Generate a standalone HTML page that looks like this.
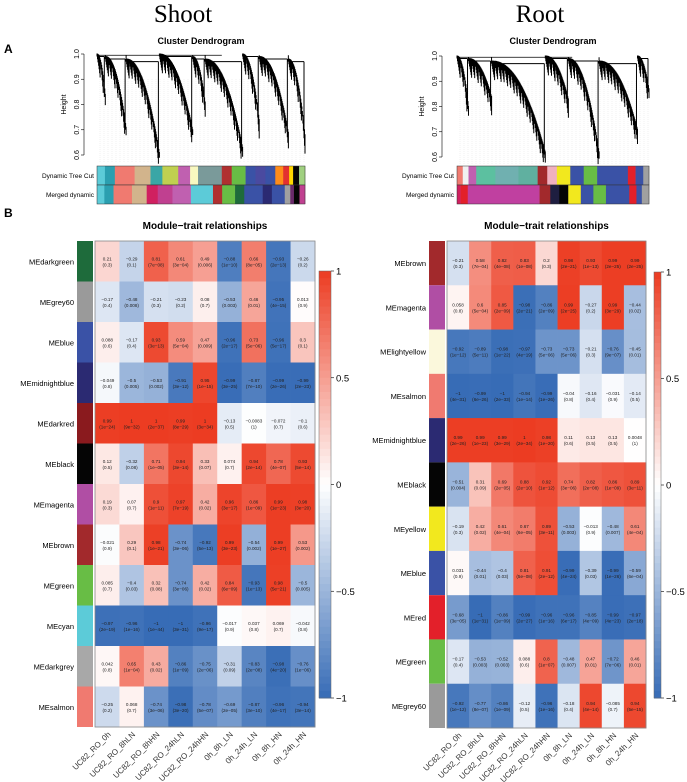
<!DOCTYPE html>
<html><head><meta charset="utf-8"><style>
html,body{margin:0;padding:0;background:#fff}
svg{display:block;font-family:"Liberation Sans",sans-serif}
</style></head><body>
<svg id="fig" width="687" height="782" viewBox="0 0 687 782">
<text x="4" y="53" font-size="12" font-weight="bold">A</text>
<text x="4" y="217" font-size="12" font-weight="bold">B</text>
<text x="183" y="22" font-size="25" text-anchor="middle" font-family="Liberation Serif,serif">Shoot</text>
<text x="540" y="22" font-size="25" text-anchor="middle" font-family="Liberation Serif,serif">Root</text>
<g id="dendroL"></g>
<g id="dendroR"></g>
<g id="heatL"></g>
<g id="heatR"></g>
</svg>
<script>
const traits=["UC82_RO_0h","UC82_RO_8hLN","UC82_RO_8hHN","UC82_RO_24hLN","UC82_RO_24hHN","0h_8h_LN","0h_24h_LN","0h_8h_HN","0h_24h_HN"];
const modulesL=["MEdarkgreen","MEgrey60","MEblue","MEmidnightblue","MEdarkred","MEblack","MEmagenta","MEbrown","MEgreen","MEcyan","MEdarkgrey","MEsalmon"];
const moduleColorsL=["#1e6b3b","#9a9a9a","#3a52a6","#2b2a72","#8a1a1e","#050505","#b04ea4","#a2292c","#68bd45","#5ccbd8","#a8a8a8","#f07a70"];
const corL=[
[0.21,-0.29,0.81,0.61,0.49,-0.88,0.66,-0.93,-0.26],
[-0.17,-0.48,-0.21,-0.23,0.08,-0.53,0.46,-0.95,0.013],
[0.088,-0.17,0.93,0.59,0.47,-0.96,0.73,-0.96,0.3],
[-0.049,-0.5,-0.53,-0.91,0.95,-0.99,-0.87,-0.99,-0.99],
[0.99,1,1,0.99,1,-0.13,-0.0083,-0.072,-0.1],
[0.12,-0.32,0.71,0.94,0.33,0.074,0.94,0.78,0.93],
[0.19,0.07,0.9,0.97,0.42,0.96,0.86,0.99,0.98],
[-0.021,0.29,0.98,-0.74,-0.92,0.99,-0.54,0.99,0.53],
[0.085,-0.4,0.32,-0.74,0.42,0.84,-0.93,0.98,-0.5],
[-0.97,-0.96,-1,-1,-0.96,-0.017,0.037,0.069,-0.042],
[0.042,0.65,0.43,-0.86,-0.75,-0.31,-0.83,-0.98,-0.76],
[-0.25,0.068,-0.74,-0.98,-0.78,-0.69,-0.87,-0.96,-0.94]];
const pL=[
["0.3","0.1","7e-08","3e-04","0.006","1e-10","8e-05","2e-13","0.2"],
["0.4","0.008","0.3","0.2","0.7","0.003","0.01","4e-15","0.9"],
["0.6","0.4","3e-13","5e-04","0.009","2e-17","5e-06","5e-17","0.1"],
["0.8","0.005","0.002","3e-12","1e-15","3e-25","7e-10","2e-26","2e-23"],
["1e-24","9e-32","2e-37","8e-29","3e-34","0.5","1","0.7","0.6"],
["0.5","0.08","1e-05","3e-14","0.07","0.7","2e-14","4e-07","5e-14"],
["0.3","0.7","1e-11","7e-19","0.02","3e-17","1e-09","1e-23","3e-20"],
["0.9","0.1","1e-21","3e-06","5e-13","3e-23","0.002","1e-27","0.002"],
["0.7","0.03","0.08","3e-06","0.02","6e-09","1e-13","5e-21","0.005"],
["2e-19","1e-16","1e-44","3e-31","9e-17","0.9","0.8","0.7","0.8"],
["0.8","1e-04","0.02","1e-09","2e-06","0.09","2e-08","4e-20","1e-06"],
["0.2","0.7","3e-06","3e-20","5e-07","2e-05","3e-10","4e-17","3e-14"]];
const modulesR=["MEbrown","MEmagenta","MElightyellow","MEsalmon","MEmidnightblue","MEblack","MEyellow","MEblue","MEred","MEgreen","MEgrey60"];
const moduleColorsR=["#a2292c","#b04ea4","#fbf8dc","#f07a70","#2b2a72","#050505","#f2e81e","#3a52a6","#e3202a","#68bd45","#9a9a9a"];
const corR=[
[-0.21,0.58,0.82,0.83,0.2,0.98,0.93,0.99,0.99],
[0.058,0.6,0.85,-0.98,-0.86,0.99,-0.27,0.99,-0.44],
[-0.92,-0.89,-0.98,-0.97,-0.73,-0.73,-0.21,-0.76,-0.45],
[-1,-0.99,-1,-0.94,-0.99,-0.04,-0.16,-0.031,-0.14],
[0.99,0.99,0.99,1,0.98,0.11,0.13,0.13,0.0048],
[-0.51,0.31,0.69,0.88,0.92,0.74,0.82,0.86,0.89],
[-0.19,0.42,0.61,0.67,0.89,-0.53,-0.013,-0.48,0.61],
[0.031,-0.44,-0.4,0.81,0.91,-0.99,-0.39,-0.99,-0.59],
[-0.68,-1,-0.86,-0.99,-0.96,-0.96,-0.85,-0.99,-0.97],
[-0.17,-0.53,-0.52,0.088,0.8,-0.48,0.47,-0.72,0.46],
[-0.92,-0.77,-0.86,-0.12,-0.96,-0.18,0.94,-0.085,0.94]];
const pR=[
["0.3","7e-04","4e-08","1e-08","0.3","2e-21","1e-13","2e-25","2e-25"],
["0.8","5e-04","2e-09","2e-21","2e-09","2e-25","0.2","3e-29","0.02"],
["1e-12","5e-11","1e-22","4e-19","5e-06","5e-06","0.3","9e-07","0.01"],
["4e-31","6e-26","2e-33","1e-14","1e-26","0.8","0.4","0.9","0.5"],
["2e-26","1e-23","3e-29","2e-34","1e-20","0.6","0.5","0.5","1"],
["0.004","0.09","2e-05","2e-10","1e-12","3e-06","2e-08","1e-09","3e-11"],
["0.3","0.02","4e-04","6e-05","3e-11","0.003","0.9","0.007","4e-04"],
["0.9","0.01","0.03","5e-08","2e-12","4e-24","0.03","1e-26","6e-04"],
["3e-05","1e-31","1e-09","2e-27","1e-16","6e-17","4e-09","4e-23","2e-18"],
["0.4","0.003","0.003","0.6","1e-07","0.007","0.01","7e-06","0.01"],
["1e-12","8e-07","1e-09","0.5","1e-16","0.4","4e-14","0.7","5e-15"]];
const cbTicks=[1,0.5,0,-0.5,-1];
const heightTicks=[0.6,0.7,0.8,0.9,1.0];
const clustersL=[[0,0.04,0.83],[0.04,0.14,0.70],[0.14,0.30,0.60],[0.30,0.46,0.69],[0.46,0.52,0.80],[0.52,0.70,0.62],[0.70,0.78,0.73],[0.78,0.92,0.68],[0.92,1,0.67]];
const clustersR=[[0,0.06,0.79],[0.06,0.18,0.83],[0.18,0.46,0.61],[0.46,0.58,0.82],[0.58,0.74,0.61],[0.74,0.94,0.70],[0.94,1,0.86]];
const barTopL=[[0.04,"#5ccbd8"],[0.05,"#2b9fb0"],[0.1,"#f07a70"],[0.08,"#d2b48c"],[0.06,"#3aa6a6"],[0.08,"#c0d050"],[0.06,"#c060b0"],[0.04,"#f8f8c0"],[0.12,"#7a9a9a"],[0.05,"#b03030"],[0.07,"#68bd45"],[0.05,"#3a52a6"],[0.05,"#4a4aa0"],[0.05,"#3a52a6"],[0.04,"#ff8c1a"],[0.03,"#e33030"],[0.02,"#ffd700"],[0.03,"#050505"],[0.03,"#a0d080"]];
const barBotL=[[0.04,"#5ccbd8"],[0.05,"#2b9fb0"],[0.1,"#f07a70"],[0.08,"#d2b48c"],[0.06,"#d02060"],[0.08,"#c04090"],[0.1,"#c060b0"],[0.12,"#5ccbd8"],[0.05,"#b03030"],[0.07,"#68bd45"],[0.05,"#1e6b3b"],[0.1,"#3a52a6"],[0.05,"#2b2a72"],[0.07,"#3a52a6"],[0.03,"#a0a0a0"],[0.02,"#6a2a6a"],[0.03,"#050505"],[0.03,"#c04090"]];
const barTopR=[[0.03,"#f07a70"],[0.03,"#f0f0f0"],[0.04,"#c060b0"],[0.1,"#5cc0a0"],[0.12,"#70b0b0"],[0.1,"#60b0a0"],[0.05,"#a2292c"],[0.05,"#f0b0c0"],[0.07,"#f2e81e"],[0.07,"#3a52a6"],[0.07,"#68bd45"],[0.16,"#3a52a6"],[0.04,"#e3202a"],[0.04,"#3a52a6"],[0.03,"#a0a0a0"]];
const barBotR=[[0.02,"#d02060"],[0.04,"#e3202a"],[0.40,"#c040a0"],[0.06,"#a2292c"],[0.05,"#1e1e40"],[0.05,"#050505"],[0.07,"#f2e81e"],[0.07,"#3a52a6"],[0.07,"#68bd45"],[0.13,"#3a52a6"],[0.04,"#e3202a"],[0.03,"#3a52a6"],[0.04,"#a0a0a0"]];

const NS="http://www.w3.org/2000/svg";
function mk(tag,attrs,parent){const e=document.createElementNS(NS,tag);for(const k in attrs)e.setAttribute(k,attrs[k]);parent.appendChild(e);return e;}
function colorOf(v){const w=[255,255,255],r=[236,60,34],b=[55,108,182];const t=Math.min(1,Math.abs(v));const c=v>=0?r:b;return "rgb("+w.map((x,i)=>Math.round(x+(c[i]-x)*t)).join(",")+")";}

function dendro(g,cfg,clusters,barTop,barBot){
  const x0=cfg.x0,x1=cfg.x1,yTop=cfg.yTop,yBot=cfg.yBot;
  const hy=h=>yBot-(h-0.6)/(0.4)*(yBot-yTop);
  const t=mk("text",{x:(x0+x1)/2,y:cfg.titleY,"font-size":9,"font-weight":"bold","text-anchor":"middle"},g);t.textContent="Cluster Dendrogram";
  
  
  mk("line",{x1:cfg.ax,y1:hy(0.6),x2:cfg.ax,y2:hy(1.0),stroke:"#000","stroke-width":0.6},g);
  heightTicks.forEach(h=>{mk("line",{x1:cfg.ax-3,y1:hy(h),x2:cfg.ax,y2:hy(h),stroke:"#000","stroke-width":0.6},g);
    const l=mk("text",{x:cfg.ax-5,y:hy(h),"font-size":7,"text-anchor":"middle",transform:"rotate(-90 "+(cfg.ax-5)+" "+hy(h)+")"},g);l.textContent=h.toFixed(1);
    
    });
  const yl=mk("text",{x:cfg.ax-18,y:(yTop+yBot)/2,"font-size":7,"text-anchor":"middle",transform:"rotate(-90 "+(cfg.ax-18)+" "+((yTop+yBot)/2)+")"},g);yl.textContent="Height";
  
  
  for(let x=x0+3;x<x1;x+=4)mk("line",{x1:x,y1:yTop+25,x2:x,y2:yBot+8,stroke:"#ccc","stroke-width":0.3,"stroke-dasharray":"1,1"},g);
  const W=x1-x0;let p="";
  mk("line",{x1:x0+W*0.005,y1:hy(0.995),x2:x0+W*0.6,y2:hy(0.995),stroke:"#000","stroke-width":0.8},g);
  clusters.forEach((c,ci)=>{
    const a=x0+W*c[0],b=x0+W*c[1];const n=Math.max(8,Math.round((b-a)*2));
    const top=0.99-0.01*(ci%3);
    p+="M"+a+" "+hy(top)+"H"+(b-1);
    p+="M"+a+" "+hy(0.995)+"V"+hy(top);
    for(let i=0;i<n;i++){
      const f=i/(n-1);const x=a+(b-a)*f;
      const base=top-(top-c[2])*Math.pow(f,2.2);
      const spur=((i*7919)%13)/13*0.07;
      p+="M"+x.toFixed(1)+" "+hy(base+0.012).toFixed(1)+"V"+hy(base-spur).toFixed(1);
    }
    p+="M"+(b-1)+" "+hy(top)+"V"+hy(c[2]);
  });
  const pe=mk("path",{d:p,stroke:"#000","stroke-width":1,fill:"none"},g);
  
  
  [[barTop,cfg.b1,"Dynamic Tree Cut"],[barBot,cfg.b2,"Merged dynamic"]].forEach(([segs,y,lab])=>{
    let tot=segs.reduce((s,q)=>s+q[0],0),acc=0;
    segs.forEach(q=>{const r=mk("rect",{x:x0+W*acc/tot,y:y,width:W*q[0]/tot+0.3,height:19,fill:q[1]},g);
      
      acc+=q[0];});
    mk("rect",{x:x0,y:y,width:W,height:19,fill:"none",stroke:"#333","stroke-width":0.5},g);
    const l=mk("text",{x:x0-3,y:y+12,"font-size":6.5,"text-anchor":"end"},g);l.textContent=lab;
    
    
  });
}
dendro(document.getElementById("dendroL"),{x0:97,x1:305,yTop:54,yBot:155,ax:84,titleY:44,b1:166,b2:185},clustersL,barTopL,barBotL);
dendro(document.getElementById("dendroR"),{x0:457,x1:649,yTop:56,yBot:157,ax:442,titleY:44,b1:166,b2:185},clustersR,barTopR,barBotR);

function heat(g,cfg,mods,mcols,cor,pv){
  const rows=mods.length,cols=traits.length;
  const cw=(cfg.x1-cfg.x0)/cols,rh=(cfg.y1-cfg.y0)/rows;
  const xs=j=>cfg.x0+j*cw,ys=i=>cfg.y0+i*rh;
  const t=mk("text",{x:(cfg.x0+cfg.x1)/2,y:229,"font-size":10,"font-weight":"bold","text-anchor":"middle"},g);t.textContent="Module\u2212trait relationships";
  
  
  cor.forEach((row,i)=>{
    const s=mk("rect",{x:cfg.sx,y:ys(i),width:cfg.sw,height:rh,fill:mcols[i]},g);
    
    
    const l=mk("text",{x:cfg.sx-3,y:ys(i)+rh/2+3,"font-size":7.5,"text-anchor":"end"},g);l.textContent=mods[i];
    
    
    row.forEach((v,j)=>{
      const r=mk("rect",{x:xs(j),y:ys(i),width:cw+0.4,height:rh+0.4,fill:colorOf(v)},g);
      
      
      const a=mk("text",{x:xs(j)+cw/2,y:ys(i)+rh/2-1,"font-size":4.6,"text-anchor":"middle",fill:"#222"},g);a.textContent=String(v).replace("-","\u2212");
      
      
      const b=mk("text",{x:xs(j)+cw/2,y:ys(i)+rh/2+5,"font-size":4.6,"text-anchor":"middle",fill:"#222"},g);b.textContent="("+pv[i][j].replace("-","\u2212")+")";
      
      
    });
  });
  mk("rect",{x:cfg.x0,y:cfg.y0,width:cfg.x1-cfg.x0,height:cfg.y1-cfg.y0,fill:"none",stroke:"#888","stroke-width":0.8},g);
  traits.forEach((tr,j)=>{const cx=xs(j)+cw/2+4,cy=cfg.y1+8;
    const l=mk("text",{x:cx,y:cy,"font-size":8,"text-anchor":"end",fill:"#333",transform:"rotate(-45 "+cx+" "+cy+")"},g);l.textContent=tr;
    
    });
  const cy=v=>cfg.cb0+(1-v)/2*(cfg.cb1-cfg.cb0);
  const n=60;for(let k=0;k<n;k++){const v=1-2*k/n;
    const r=mk("rect",{x:cfg.cbx,y:cy(v),width:cfg.cbw,height:(cfg.cb1-cfg.cb0)/n+0.5,fill:colorOf(v-1/n)},g);
    
    }
  mk("rect",{x:cfg.cbx,y:cfg.cb0,width:cfg.cbw,height:cfg.cb1-cfg.cb0,fill:"none",stroke:"#666","stroke-width":0.5},g);
  cbTicks.forEach(v=>{mk("line",{x1:cfg.cbx+cfg.cbw,y1:cy(v),x2:cfg.cbx+cfg.cbw+3,y2:cy(v),stroke:"#000","stroke-width":0.6},g);
    const l=mk("text",{x:cfg.cbx+cfg.cbw+5,y:cy(v)+3.5,"font-size":9.5},g);l.textContent=String(v).replace("-","\u2212");
    
    });
}
heat(document.getElementById("heatL"),{x0:95,x1:315,y0:241,y1:727,sx:77,sw:16,cbx:319,cbw:12,cb0:271,cb1:698},modulesL,moduleColorsL,corL,pL);
heat(document.getElementById("heatR"),{x0:447,x1:646,y0:241,y1:728,sx:429,sw:16,cbx:654,cbw:7,cb0:272,cb1:698},modulesR,moduleColorsR,corR,pR);
</script>
</body></html>
